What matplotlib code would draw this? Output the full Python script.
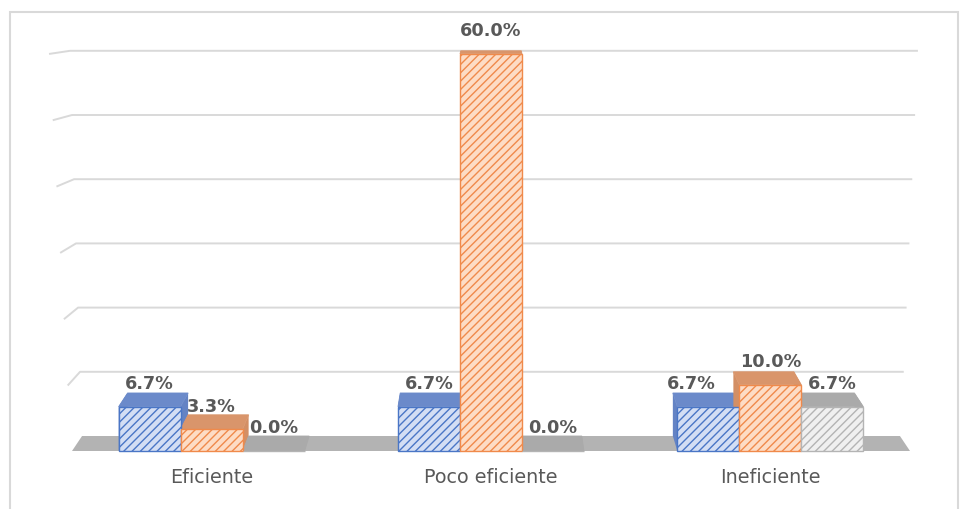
import matplotlib
matplotlib.use("Agg")
import matplotlib.pyplot as plt
from matplotlib.patches import Polygon, Rectangle

# ---- data -------------------------------------------------------------
categories = ["Eficiente", "Poco eficiente", "Ineficiente"]
serie_1 = [6.7, 6.7, 6.7]
serie_2 = [3.3, 60.0, 10.0]
serie_3 = [0.0, 0.0, 6.7]
grid_values = [10, 20, 30, 40, 50, 60]

# ---- styles -----------------------------------------------------------
front_colors = ["#d3def4", "#fddcc5", "#f0f0f0"]
hatch_colors = ["#4a76c6", "#f08a4b", "#b4b4b4"]
top_colors = ["#6b8aca", "#d9956b", "#aaaaaa"]
side_colors = ["#6483c4", "#d38f65", "#a3a3a3"]
label_color = "#595959"
grid_color = "#d9d9d9"

W, H = 963, 510
fig = plt.figure(figsize=(W / 100, H / 100), dpi=100)

# front plane of the 3-D box, in pixels
x_left_px, x_right_px = 72, 910
base_px = 452
px_per_pct = 6.62
ax = fig.add_axes([x_left_px / W, (H - base_px) / H,
                   (x_right_px - x_left_px) / W, 60 * px_per_pct / H])
ax.set_xlim(-0.5, 2.5)
ax.set_ylim(0, 60)
for s in ax.spines.values():
    s.set_visible(False)
ax.set_yticks([])

px_per_cat = (x_right_px - x_left_px) / 3.0
depth_px = 15.0           # floor depth seen on screen
back_scale_y = 6.42       # px per % on the back wall
back_scale_x = 0.976      # perspective shrink of the back wall


def back_y(v):
    """Front-plane data y of a point at height v on the back plane."""
    return (depth_px + back_scale_y * v) / px_per_pct


def back_x(d):
    """Front-plane data x of a point at x=d on the back plane."""
    return 1 + back_scale_x * (d - 1)


# floor
floor = Polygon([(-0.5, 0), (2.5, 0), (back_x(2.5), back_y(0)),
                 (back_x(-0.5), back_y(0))], closed=True,
                facecolor="#b3b3b3", edgecolor="none", zorder=1, clip_on=False)
ax.add_patch(floor)

# back-wall gridlines with the side-wall hook on the left
for v in grid_values:
    f = v / 60.0
    xb_left = back_x(-0.5) - 12 / px_per_cat * f
    xf_left = -0.5 - 22 / px_per_cat * f
    xb_right = back_x(2.5) + 17 / px_per_cat * f
    ax.plot([xf_left, xb_left, xb_right], [v, back_y(v), back_y(v)],
            color=grid_color, lw=1.4, zorder=0.5, clip_on=False,
            solid_joinstyle="round")

plt.rcParams["hatch.linewidth"] = 1.0

series = [serie_1, serie_2, serie_3]
bar_w = 0.222
offsets = [-bar_w, 0.0, bar_w]
label_dx = {(0, 2): -12}   # (series, category) -> horizontal nudge in points

for ci in range(len(categories)):
    for si, vals in enumerate(series):
        v = vals[ci]
        c = ci + offsets[si]
        x0, x1 = c - bar_w / 2, c + bar_w / 2
        # side faces
        for xe in (x0, x1):
            side = Polygon([(xe, 0), (xe, v), (back_x(xe), back_y(v)),
                            (back_x(xe), back_y(0))], closed=True,
                           facecolor=side_colors[si], edgecolor="none",
                           zorder=2, clip_on=False)
            ax.add_patch(side)
        # top face
        top = Polygon([(x0, v), (x1, v), (back_x(x1), back_y(v)),
                       (back_x(x0), back_y(v))], closed=True,
                      facecolor=top_colors[si], edgecolor=top_colors[si],
                      lw=0.6, zorder=2, clip_on=False)
        ax.add_patch(top)

for si, vals in enumerate(series):
    xs = [i + offsets[si] for i in range(len(categories))]
    ax.bar(xs, vals, width=bar_w, facecolor=front_colors[si],
           edgecolor=hatch_colors[si], hatch="////", lw=1.0, zorder=3,
           clip_on=False)
    for ci, v in enumerate(vals):
        dx = label_dx.get((si, ci), 0)
        ax.annotate(f"{v:.1f}%", (xs[ci], v), xytext=(dx, 17),
                    textcoords="offset points", ha="center", va="center",
                    fontsize=12.7, fontweight="bold", color=label_color,
                    zorder=5, annotation_clip=False)

ax.set_xticks(range(len(categories)), categories)
ax.tick_params(axis="x", length=0, pad=11.5, labelsize=13.8,
               labelcolor=label_color)

# chart area border
fig.patches.append(Rectangle((10 / W, -0.02), 948 / W, (H - 13) / H + 0.02,
                             transform=fig.transFigure, fill=False,
                             edgecolor="#d9d9d9", lw=1.5))

fig.savefig("out.png", dpi=100)
